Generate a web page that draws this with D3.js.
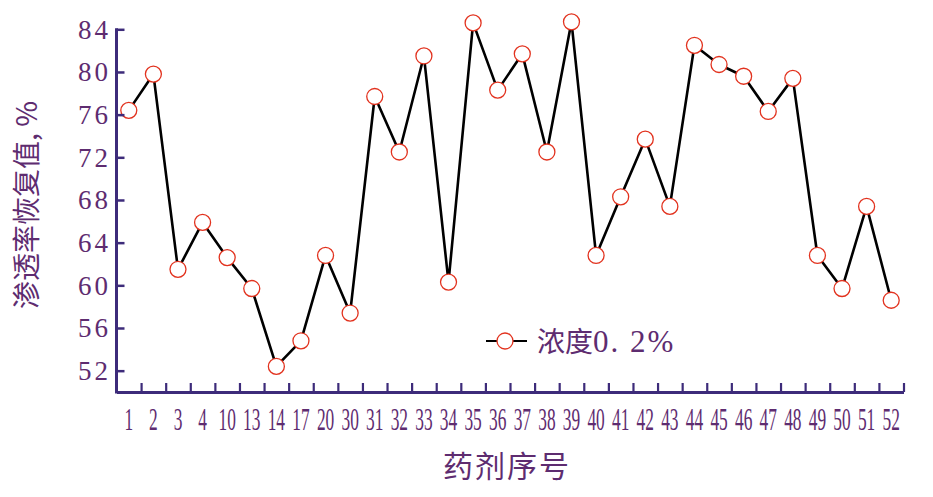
<!DOCTYPE html>
<html><head><meta charset="utf-8">
<script src="https://cdn.jsdelivr.net/npm/d3@7"></script>
<style>
html,body{margin:0;padding:0;background:#fff;}
svg{display:block;}
</style></head>
<body>
<div id="chart"></div>
<script>
const categories = ["1","2","3","4","10","13","14","17","20","30","31","32","33","34","35","36","37","38","39","40","41","42","43","44","45","46","47","48","49","50","51","52"];
const values = [76.4,79.8,61.5,65.9,62.6,59.7,52.4,54.8,62.8,57.4,77.7,72.5,81.5,60.3,84.6,78.3,81.7,72.5,84.7,62.8,68.3,73.7,67.4,82.5,80.7,79.6,76.3,79.4,62.8,59.7,67.4,58.6];
const yTicks = [52,56,60,64,68,72,76,80,84];
const seriesNameCJK = "浓度";
const seriesNameNum = "0. 2%";
const xTitle = "药剂序号";
const yTitle = "渗透率恢复值, %";

const W = 933, H = 497;
const axisColor = "#3d2b7a", textColor = "#5e2c70";
const svg = d3.select("#chart").append("svg").attr("width", W).attr("height", H);

const x = d3.scaleBand().domain(categories).range([116.5, 903.5]).paddingInner(0).paddingOuter(0);
const y = d3.scaleLinear().domain([50, 84]).range([392, 29.3]);

// line
const line = d3.line().x((d,i)=>x(categories[i]) + x.bandwidth()/2).y(d=>y(d));
svg.append("path").datum(values).attr("d", line)
  .attr("fill","none").attr("stroke","#000").attr("stroke-width",2.6).attr("stroke-linejoin","round");

svg.selectAll("circle.pt").data(values).join("circle").attr("class","pt")
  .attr("cx",(d,i)=>x(categories[i]) + x.bandwidth()/2).attr("cy",d=>y(d)).attr("r",8)
  .attr("fill","#fff").attr("stroke","#e2321e").attr("stroke-width",1.3);

// x axis: ticks at band boundaries (upward)
const xb = d3.scaleLinear().domain([0, categories.length]).range(x.range());
const xAxis = d3.axisBottom(xb).tickValues(d3.range(1, categories.length+1)).tickSize(-9).tickFormat("").tickSizeOuter(0);
const gx = svg.append("g").attr("transform","translate(0,392)").call(xAxis);
gx.select(".domain").attr("stroke",axisColor).attr("stroke-width",3);
gx.selectAll(".tick line").attr("stroke",axisColor).attr("stroke-width",2.2);

// x tick labels (condensed)
svg.append("g").selectAll("text").data(categories).join("text")
  .attr("transform", d=>`translate(${x(d)+x.bandwidth()/2},429.5) scale(0.56,1)`)
  .attr("text-anchor","middle").attr("font-family","Liberation Serif, serif").attr("font-size",31)
  .attr("fill",textColor).text(d=>d);

// y axis: ticks pointing inward
const yAxis = d3.axisLeft(y).tickValues(yTicks).tickSize(-8).tickFormat("").tickSizeOuter(0);
const gy = svg.append("g").attr("transform","translate(116.5,0)").call(yAxis);
gy.select(".domain").attr("stroke",axisColor).attr("stroke-width",3).attr("d", `M0,${y(84)-1}V${y(50)+1.5}`);
gy.selectAll(".tick line").attr("stroke",axisColor).attr("stroke-width",2.5);

svg.append("g").selectAll("text").data(yTicks).join("text")
  .attr("x",111).attr("y",d=>y(d)+9.5).attr("text-anchor","end")
  .attr("font-family","Liberation Serif, serif").attr("font-size",27).attr("letter-spacing",3)
  .attr("fill",textColor).text(d=>d);

// titles
svg.append("text").attr("transform","translate(37,205) rotate(-90)").attr("text-anchor","middle")
  .attr("font-family","Noto Sans CJK SC").attr("font-weight",400).attr("font-size",28)
  .attr("fill",textColor).text(yTitle);
svg.append("text").attr("x",507).attr("y",477).attr("text-anchor","middle")
  .attr("font-family","Noto Sans CJK SC").attr("font-weight",400).attr("font-size",30).attr("letter-spacing",2)
  .attr("fill",textColor).text(xTitle);

// legend
const lg = svg.append("g");
lg.append("line").attr("x1",486).attr("x2",527).attr("y1",341).attr("y2",341).attr("stroke","#000").attr("stroke-width",2);
lg.append("circle").attr("cx",505).attr("cy",341).attr("r",8).attr("fill","#fff").attr("stroke","#e2321e").attr("stroke-width",1.3);
const lt = lg.append("text").attr("x",537).attr("y",352).attr("fill",textColor);
lt.append("tspan").attr("font-family","Noto Sans CJK SC").attr("font-size",28).text(seriesNameCJK);
lt.append("tspan").attr("font-family","Liberation Serif, serif").attr("font-size",31).attr("letter-spacing",2).text(seriesNameNum);
</script>
</body></html>
